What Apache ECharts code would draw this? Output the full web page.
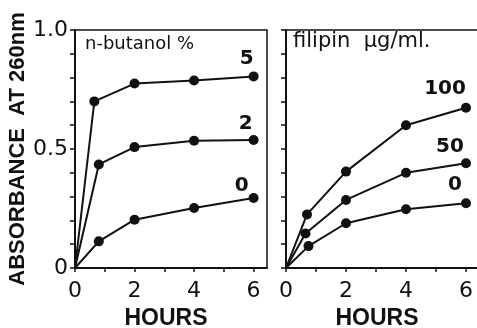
<!DOCTYPE html>
<html>
<head>
<meta charset="utf-8">
<script src="https://cdn.jsdelivr.net/npm/echarts@6/dist/echarts.min.js"></script>
<style>
  html, body { margin: 0; padding: 0; background: #fff; }
  #chart { width: 477px; height: 328px; }
</style>
</head>
<body>
<div id="chart"></div>
<script>
// 数据：吸光度随时间变化
var hoursButanol5 = [0, 0.65, 2, 4, 6];
var butanol5 = [0, 0.70, 0.775, 0.788, 0.805];
var hoursButanol2 = [0, 0.8, 2, 4, 6];
var butanol2 = [0, 0.435, 0.508, 0.535, 0.538];
var hoursButanol0 = [0, 0.8, 2, 4, 6];
var butanol0 = [0, 0.112, 0.203, 0.252, 0.294];

var hoursFilipin100 = [0, 0.7, 2, 4, 6];
var filipin100 = [0, 0.225, 0.405, 0.60, 0.673];
var hoursFilipin50 = [0, 0.65, 2, 4, 6];
var filipin50 = [0, 0.145, 0.286, 0.40, 0.44];
var hoursFilipin0 = [0, 0.75, 2, 4, 6];
var filipin0 = [0, 0.092, 0.188, 0.247, 0.272];

var butanolLabels = ['5', '2', '0'];
var filipinLabels = ['100', '50', '0'];
var xTickLabels = ['0', '2', '4', '6'];
var yTickLabels = ['0', '0.5', '1.0'];

var sans = '"DejaVu Sans", sans-serif';
var narrowBold = '"Liberation Sans", Arial, sans-serif';
var ink = '#111';

// 组装一条曲线：原点不画点，最后一点带标注
function makeSeries(name, xs, ys, axisIdx, labelText, offset) {
    var data = xs.map(function (x, i) {
        var item = { value: [x, ys[i]] };
        if (i === 0) item.symbol = 'none';
        if (i === xs.length - 1) {
            item.label = {
                show: true,
                formatter: labelText,
                position: 'inside',
                offset: offset,
                color: ink,
                fontFamily: sans,
                fontWeight: 'bold',
                fontSize: 20
            };
        }
        return item;
    });
    return {
        name: name,
        type: 'line',
        xAxisIndex: axisIdx,
        yAxisIndex: axisIdx,
        data: data,
        symbol: 'circle',
        symbolSize: 10,
        itemStyle: { color: ink },
        lineStyle: { color: ink, width: 2 },
        label: { show: false },
        animation: false
    };
}

function xAxisOf(idx, max, namePad) {
    return {
        type: 'value',
        gridIndex: idx,
        min: 0,
        max: max,
        interval: 1,
        name: 'HOURS',
        nameLocation: 'middle',
        nameGap: 34,
        nameTextStyle: {
            color: ink, fontFamily: narrowBold, fontWeight: 'bold', fontSize: 23,
            padding: namePad
        },
        axisLine: { lineStyle: { color: ink, width: 2 } },
        axisTick: { show: true, length: 4, lineStyle: { color: ink, width: 1.5 } },
        axisLabel: {
            color: ink, fontFamily: sans, fontSize: 22, margin: 12,
            showMaxLabel: false,
            formatter: function (v) {
                var s = String(v);
                return xTickLabels.indexOf(s) >= 0 ? s : '';
            }
        },
        splitLine: { show: false }
    };
}

function yAxisOf(idx, withLabels) {
    return {
        type: 'value',
        gridIndex: idx,
        min: 0,
        max: 1,
        interval: 0.1,
        name: withLabels ? 'ABSORBANCE  AT 260nm' : '',
        nameLocation: 'middle',
        nameGap: 41,
        nameRotate: 90,
        nameTextStyle: { color: ink, fontFamily: narrowBold, fontWeight: 'bold', fontSize: 22 },
        axisLine: { show: true, lineStyle: { color: ink, width: 2 } },
        axisTick: { show: true, length: 5, lineStyle: { color: ink, width: 1.5 } },
        axisLabel: {
            show: withLabels,
            color: ink, fontFamily: sans, fontSize: 22, margin: 7,
            formatter: function (v) {
                var r = Math.round(v * 10) / 10;
                if (r === 0) return yTickLabels[0];
                if (r === 0.5) return yTickLabels[1];
                if (r === 1) return yTickLabels[2];
                return '';
            }
        },
        splitLine: { show: false }
    };
}

var myChart = echarts.init(document.getElementById('chart'));

var option = {
    backgroundColor: '#fff',
    animation: false,
    title: [
        { text: 'n-butanol %', left: 85, top: 35, padding: 0,
          textStyle: { color: ink, fontFamily: sans, fontWeight: 'normal', fontSize: 18 } },
        { text: 'filipin  \u03bcg/ml.', left: 293, top: 31, padding: 0,
          textStyle: { color: ink, fontFamily: sans, fontWeight: 'normal', fontSize: 21 } }
    ],
    grid: [
        { left: 75, top: 30, width: 192, height: 238, outerBoundsMode: 'none',
          show: true, borderColor: ink, borderWidth: 1.5 },
        { left: 286, top: 30, width: 192, height: 238, outerBoundsMode: 'none',
          show: true, borderColor: ink, borderWidth: 1.5 }
    ],
    xAxis: [xAxisOf(0, 6.45, [0, 10, 0, 0]), xAxisOf(1, 6.4, [0, 10, 0, 0])],
    yAxis: [yAxisOf(0, true), yAxisOf(1, false)],
    series: [
        makeSeries('5%', hoursButanol5, butanol5, 0, butanolLabels[0], [-7, -18]),
        makeSeries('2%', hoursButanol2, butanol2, 0, butanolLabels[1], [-8, -16]),
        makeSeries('0%', hoursButanol0, butanol0, 0, butanolLabels[2], [-12, -12]),
        makeSeries('100', hoursFilipin100, filipin100, 1, filipinLabels[0], [-21, -19]),
        makeSeries('50', hoursFilipin50, filipin50, 1, filipinLabels[1], [-16, -16]),
        makeSeries('0', hoursFilipin0, filipin0, 1, filipinLabels[2], [-11, -18])
    ]
};

myChart.setOption(option);
</script>
</body>
</html>
